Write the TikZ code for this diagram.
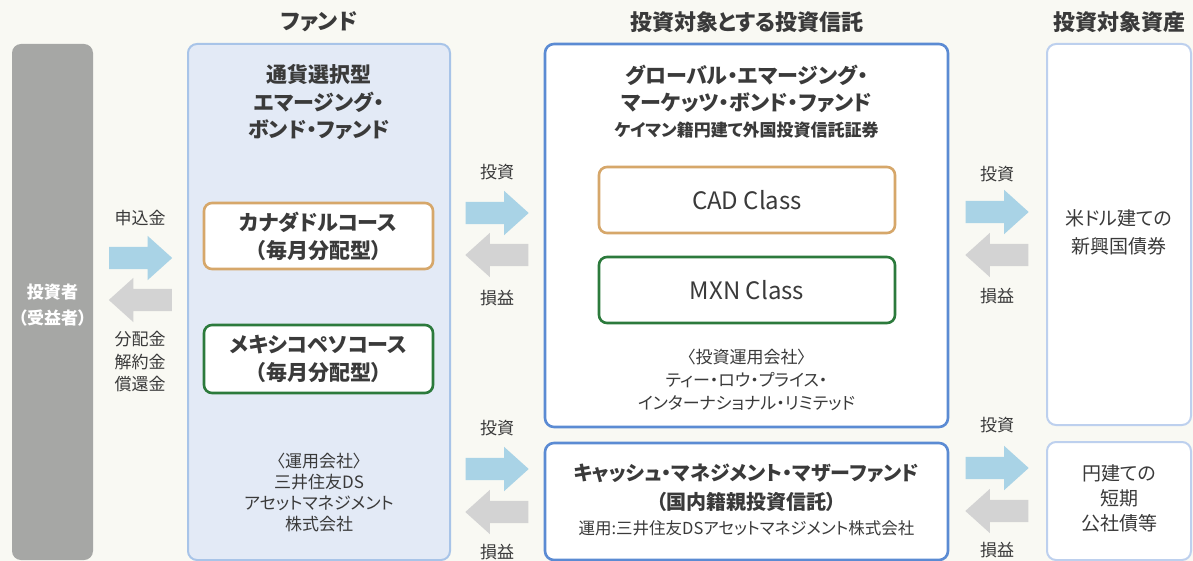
\documentclass[tikz,border=0pt]{standalone}
\usepackage{fontspec}
\setmainfont{Noto Sans CJK JP}[RawFeature=+palt]
\usepackage{tikz}
\usetikzlibrary{shapes.arrows}

\definecolor{bgcream}{HTML}{F9F9F3}
\definecolor{investgray}{HTML}{A6A7A5}
\definecolor{fundfill}{HTML}{E3EAF6}
\definecolor{fundline}{HTML}{A8C4E8}
\definecolor{trustline}{HTML}{5B8BD3}
\definecolor{assetline}{HTML}{BDD0EE}
\definecolor{cadline}{HTML}{D6A76A}
\definecolor{mxnline}{HTML}{2C7A3C}
\definecolor{inblue}{HTML}{A9D3E6}
\definecolor{outgray}{HTML}{D3D3D3}
\definecolor{txt}{HTML}{3A3A3A}

\newcommand\fsz[2]{\fontsize{#1}{#2}\selectfont}

\tikzset{
  bigbox/.style={rounded corners=9pt, inner sep=0pt},
  coursebox/.style={rounded corners=8pt, fill=white, line width=2.6pt, minimum width=229pt, align=center, text=txt, font=\fsz{21}{28}\bfseries},
  classbox/.style={rounded corners=8pt, fill=white, line width=2.6pt, minimum width=296pt, minimum height=66pt, text=txt, font=\fsz{24}{28}},
  inarrow/.style={single arrow, fill=inblue, minimum height=63pt, minimum width=44pt, single arrow head extend=11pt, single arrow tip angle=84, inner xsep=0pt, inner ysep=11pt, anchor=tail},
  outarrow/.style={inarrow, fill=outgray, shape border rotate=180},
  lbl/.style={text=txt, font=\fsz{17}{22.5}, align=center},
  title/.style={text=txt, font=\fsz{22}{26}\bfseries}
}

\begin{document}
\begin{tikzpicture}[x=1pt,y=-1pt]
%background
\fill[bgcream] (0,0) rectangle (1193,561);
\useasboundingbox (0,0) rectangle (1193,561);

%column titles
\node[title] (tfund) at (319,22) {ファンド};
\node[title] (ttrust) at (747,22) {投資対象とする投資信託};
\node[title] (tasset) at (1119,22) {投資対象資産};

%investor
\node[bigbox, fill=investgray, minimum width=81pt, minimum height=516pt] (investor) at (52.5,302) {};
\node[text=white, font=\fsz{17}{26}\bfseries, align=center] (investortext) at (52.5,305) {投資者\\（受益者）};

%fund
\node[bigbox, fill=fundfill, draw=fundline, line width=2pt, minimum width=262pt, minimum height=516pt] (fund) at (319,302) {};
\node[text=txt, font=\fsz{21}{27.5}\bfseries, align=center] (fundname) at (319,102.5) {通貨選択型\\エマージング・\\ボンド・ファンド};
\node[coursebox, draw=cadline, minimum height=66pt] (cadcourse) at (318.5,236) {カナダドルコース\\（毎月分配型）};
\node[coursebox, draw=mxnline, minimum height=68pt] (mxncourse) at (318.5,359) {メキシコペソコース\\（毎月分配型）};
\node[lbl, font=\fsz{17}{21}] (fundmgr) at (319,493) {〈運用会社〉\\三井住友DS\\アセットマネジメント\\株式会社};

%target trusts
\node[bigbox, fill=white, draw=trustline, line width=2.6pt, minimum width=403pt, minimum height=383pt] (trust) at (746.5,235.5) {};
\node[text=txt, font=\fsz{21}{27}\bfseries, align=center] (trustname) at (746.5,89) {グローバル・エマージング・\\マーケッツ・ボンド・ファンド};
\node[text=txt, font=\fsz{17}{20}\bfseries] (trustkind) at (746.5,130) {ケイマン籍円建て外国投資信託証券};
\node[classbox, draw=cadline] (cadclass) at (747,200) {CAD Class};
\node[classbox, draw=mxnline] (mxnclass) at (747,290) {MXN Class};
\node[lbl, font=\fsz{17}{23}] (trustmgr) at (746.5,380) {〈投資運用会社〉\\ティー・ロウ・プライス・\\インターナショナル・リミテッド};

\node[bigbox, fill=white, draw=trustline, line width=2.6pt, minimum width=403pt, minimum height=117pt] (cash) at (746.5,501.5) {};
\node[text=txt, font=\fsz{20}{29}\bfseries, align=center] (cashname) at (746.5,487.5) {キャッシュ・マネジメント・マザーファンド\\（国内籍親投資信託）};
\node[text=txt, font=\fsz{16.5}{20}] (cashmgr) at (746.5,528) {運用:三井住友DSアセットマネジメント株式会社};

%target assets
\node[bigbox, fill=white, draw=assetline, line width=2pt, minimum width=144pt, minimum height=381pt] (asset) at (1119,234.5) {};
\node[lbl, font=\fsz{19}{28}] (assettext) at (1119,232) {米ドル建ての\\新興国債券};
\node[bigbox, fill=white, draw=assetline, line width=2pt, minimum width=144pt, minimum height=118pt] (shortasset) at (1119,501) {};
\node[lbl, font=\fsz{19}{25}] (shorttext) at (1119,498) {円建ての\\短期\\公社債等};

%block arrows (placed by their tails)
\node[inarrow] (apply) at (109,258) {};
\node[outarrow] (payback) at (172,300) {};
\foreach \n/\x/\y in {inv1/465.5/213, inv2/465.5/469, inv3/965.5/212, inv4/965.5/468}
  \node[inarrow] (\n) at (\x,\y) {};
\foreach \n/\x/\y in {ret1/528.5/255, ret2/528.5/512, ret3/1028.5/255, ret4/1028.5/511}
  \node[outarrow] (\n) at (\x,\y) {};

%arrow labels
\node[lbl] (lapply) at (140,218) {申込金};
\node[lbl] (lpayback) at (140,362) {分配金\\解約金\\償還金};
\foreach \n/\x/\y in {linv1/497/172, linv2/497/428, linv3/997/174, linv4/997/425}
  \node[lbl] (\n) at (\x,\y) {投資};
\foreach \n/\x/\y in {lret1/497/298, lret2/497/552, lret3/997/296, lret4/997/550}
  \node[lbl] (\n) at (\x,\y) {損益};
\end{tikzpicture}
\end{document}
